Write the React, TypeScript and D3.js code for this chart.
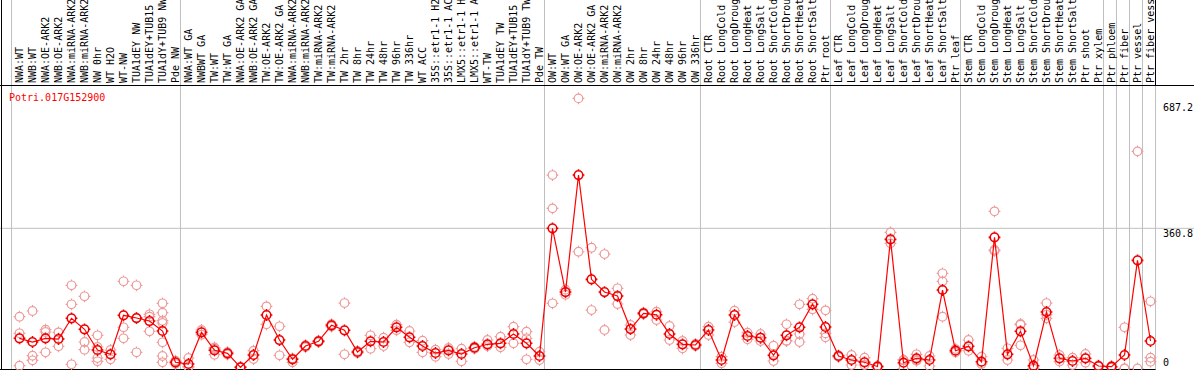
import React from 'react'
import * as d3 from 'd3'

const geneName = 'Potri.017G152900'

const groupSizes = [13, 28, 12, 10, 10, 11, 1, 1, 1, 1]

const sampleLabels = [
  'NWA:WT', 'NWB:WT', 'NWA:OE-ARK2', 'NWB:OE-ARK2', 'NWA:miRNA-ARK2', 'NWB:miRNA-ARK2',
  'NW 0hr', 'WT H2O', 'WT-NW', 'TUA1dEY NW', 'TUA1dEY+TUB15 NW', 'TUA1dY+TUB9 NW', 'Pde NW',
  'NWA:WT GA', 'NWBWT GA', 'TW:WT', 'TW:WT GA', 'NWA:OE-ARK2 GA', 'NWB:OE-ARK2 GA',
  'TW:OE-ARK2', 'TW:OE-ARK2 GA', 'NWA:miRNA-ARK2 GA', 'NWB:miRNA-ARK2 GA', 'TW:miRNA-ARK2',
  'TW:miRNA-ARK2 GA', 'TW 2hr', 'TW 8hr', 'TW 24hr', 'TW 48hr', 'TW 96hr', 'TW 336hr', 'WT ACC',
  '35S::etr1-1 H2O', '35S::etr1-1 ACC', 'LMX5::etr1-1 H2O', 'LMX5::etr1-1 ACC', 'WT-TW',
  'TUA1dEY TW', 'TUA1dEY+TUB15 TW', 'TUA1dY+TUB9 TW', 'Pde TW',
  'OW:WT', 'OW:WT GA', 'OW:OE-ARK2', 'OW:OE-ARK2 GA', 'OW:miRNA-ARK2', 'OW:miRNA-ARK2 GA',
  'OW 2hr', 'OW 8hr', 'OW 24hr', 'OW 48hr', 'OW 96hr', 'OW 336hr',
  'Root CTR', 'Root LongCold', 'Root LongDrought', 'Root LongHeat', 'Root LongSalt',
  'Root ShortCold', 'Root ShortDrought', 'Root ShortHeat', 'Root ShortSalt', 'Ptr root',
  'Leaf CTR', 'Leaf LongCold', 'Leaf LongDrought', 'Leaf LongHeat', 'Leaf LongSalt',
  'Leaf ShortCold', 'Leaf ShortDrought', 'Leaf ShortHeat', 'Leaf ShortSalt', 'Ptr leaf',
  'Stem CTR', 'Stem LongCold', 'Stem LongDrought', 'Stem LongHeat', 'Stem LongSalt',
  'Stem ShortCold', 'Stem ShortDrought', 'Stem ShortHeat', 'Stem ShortSalt', 'Ptr shoot',
  'Ptr xylem', 'Ptr phloem', 'Ptr fiber', 'Ptr vessel', 'Ptr fiber vessel',
]

// mean expression per sample
const meanValues = [
  77.7, 68.2, 77.7, 75.9, 129.2, 100.9, 47.6, 36.5, 136.9, 129.9, 122.2, 96.5, 16,
  11.6, 93.1, 46.8, 39.1, 3.1, 34.7, 137.7, 73.3, 23.7, 57.9, 70, 111.2, 98.3, 42.5,
  70, 68.2, 106, 80.3, 57.9, 39.9, 46.8, 37.3, 53.5, 62.3, 64.8, 88.8, 64.8, 32.2,
  360.8, 196.8, 497.9, 229.5, 196.8, 186.5, 101.6, 142, 138.4, 88.8, 62.3, 60.5,
  99.1, 21.9, 137.7, 83.6, 79.2, 34, 85.4, 106, 165.2, 106.8,
  32.2, 21.9, 16, 5.1, 332.4, 14.9, 26.2, 21.9, 202, 45.8,
  57.1, 17.5, 337.6, 36.5, 95.7, 7.2, 145.4, 26.2, 19.3, 26.2, 6.4,
  4.6, 34.7, 278.4, 70.8,
]

// individual replicates per sample
const replicateValues = [
  [133.3, 90.6, 7.2], [148, 32.9, 21.1], [99.8, 93.9, 41.7], [93.1, 57.1, 77],
  [214.1, 165.2, 10.8], [185.8, 68.2, 48.4], [85.4, 55.3, 27, 18.5], [47.6, 23.7],
  [224.4, 106, 77.7], [214.1, 41.7, 130], [139.5, 133.3, 95.7],
  [167.8, 143.6, 123, 117.1, 67.4, 32.2, 16], [12, 20],
  [27, 4, 4], [99.1, 87], [50.9, 35.5, 54], [36, 42], [2, 4], [45.8, 24.4],
  [160, 113.7], [108.6, 34], [26.2, 16], [55, 60], [68, 72], [108, 114], [168.5, 36.5],
  [40, 45], [85.4, 50.9], [79.2, 57.9], [112.7, 98.3], [96.5, 67.4], [71.5, 41.7],
  [48.4, 30.4], [52.7, 37.3], [50.9, 18.5], [56.1, 50.9], [73.3, 57.9], [81.8, 54.5],
  [107.6, 64.8], [94.7, 77.7, 23.7], [43.2, 21.9],
  [497.9, 412.2, 167.8], [190, 203], [695.2, 300.5], [310.8, 150.5], [294.6, 99.1],
  [206.4, 166], [111.9, 86.2], [140, 144], [146.1, 124.8], [109.4, 73.3], [70.8, 52],
  [58, 63],
  [107.6, 86.2], [13.4, 30.4], [148.7, 119.6], [75.1, 92], [88.8, 70.8], [58.7, 19.3],
  [113.7, 70.8, 71.7], [165.2, 88.8, 68.2], [179.6, 152.3], [149.7, 80.3, 90.4],
  [30, 34], [34.7, 9], [27.8, 9], [3, 7], [350.4, 322.1], [22, 0, 22], [36.5, 21.9, 20],
  [32.2, 6.4], [245, 224.4, 133.3], [42, 50],
  [73.3, 45.8], [30.4, 11.6], [404.5, 305.7, 302.6], [52, 21.9], [112.7, 59.7, 114.7],
  [21.9, 0, 0], [168.5, 129.2, 138.5], [34.7, 17.7], [27.8, 9], [37.3, 15], [5, 8],
  [3, 6], [106, 0, 0], [558.9, 0], [172.9, 27.8, 17.5],
]

const axisTicks = [0, 360.8, 687.2]

const W = 1194
const H = 370
const FONT = '"DejaVu Sans Mono", "Liberation Mono", monospace'
const plotTop = 85.5
const plotBottom = 369.5
const plotRight = 1155.5

function markerPath(r: number) {
  const t = r + 1.6
  return `M${-r},0a${r},${r} 0 1,0 ${2 * r},0a${r},${r} 0 1,0 ${-2 * r},0` +
    `M0,${-r}V${-t}M0,${r}V${t}M${-r},0H${-t}M${r},0H${t}`
}

export default function App() {
  const idx = sampleLabels.map((_, i) => i)
  const x = d3.scaleBand<number>().domain(idx).range([11.5, plotRight]).padding(0)
  const cx = (i: number) => (x(i) as number) + 8
  const y = d3.scaleLinear().domain([0, 687.2]).range([368.5, 101.5])

  const starts: number[] = []
  let acc = 0
  groupSizes.forEach((g) => { starts.push(acc); acc += g })
  const boundaries = starts.map((s) => x(s) as number).concat([plotRight])

  const line = d3.line<number>().x((d, i) => cx(i)).y((d) => y(d))
  const mk = markerPath(4.3)

  return (
    <div style={{ position: 'absolute', left: 0, top: 0 }}>
      <svg width={W} height={H} style={{ display: 'block', background: '#fff' }}>
        {/* vertical group separators */}
        {boundaries.map((bx, i) => (
          <line key={'v' + i} x1={bx} x2={bx} y1={0} y2={H} stroke="#c0c0c0" strokeWidth={1} />
        ))}
        <line x1={plotRight} x2={plotRight} y1={0} y2={plotTop} stroke="#000" />
        {/* horizontal gridline */}
        <line x1={0} x2={W} y1={y(360.8)} y2={y(360.8)} stroke="#c0c0c0" />
        {/* frame */}
        <line x1={0} x2={W} y1={plotTop} y2={plotTop} stroke="#000" />
        <line x1={1.5} x2={1.5} y1={0} y2={H} stroke="#000" />
        <line x1={0} x2={plotRight} y1={plotBottom} y2={plotBottom} stroke="#000" />

        {/* sample labels */}
        <g fontFamily={FONT} fontSize={10} fill="#000">
          {sampleLabels.map((s, i) => (
            <text key={'l' + i} transform={`translate(${cx(i)},83) rotate(-90)`}
              dominantBaseline="central" textAnchor="start">{s}</text>
          ))}
        </g>

        <text x={9} y={101} fontFamily={FONT} fontSize={10} fill="#ff0000">{geneName}</text>

        {/* right axis labels */}
        <g fontFamily={FONT} fontSize={10} fill="#000">
          {axisTicks.map((t) => (
            <text key={'t' + t} x={1163} y={Math.min(y(t) + 9, 366)}>{t}</text>
          ))}
        </g>

        {/* replicates */}
        <g fill="none" stroke="#ee9a9a" strokeWidth={1.2}>
          {replicateValues.map((reps, i) =>
            reps.map((v, j) => (
              <path key={`r${i}-${j}`} d={mk} transform={`translate(${cx(i)},${y(v)})`} />
            ))
          )}
        </g>

        <path d={line(meanValues) || ''} fill="none" stroke="#ff0000" strokeWidth={1.2} />

        <g fill="none" stroke="#ee0000" strokeWidth={1.6}>
          {meanValues.map((v, i) => (
            <path key={'m' + i} d={mk} transform={`translate(${cx(i)},${y(v)})`} />
          ))}
        </g>
      </svg>
    </div>
  )
}
